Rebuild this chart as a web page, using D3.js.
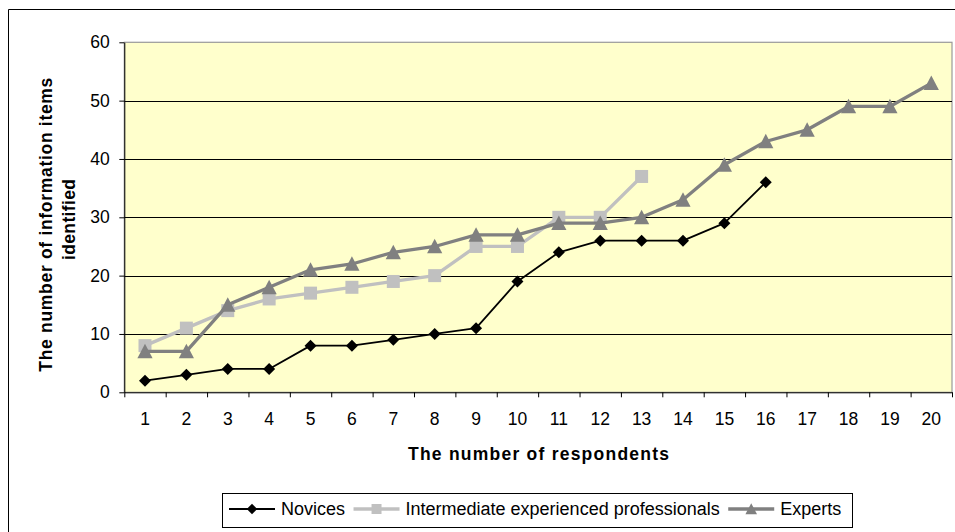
<!DOCTYPE html>
<html>
<head>
<meta charset="utf-8">
<script src="https://cdn.jsdelivr.net/npm/d3@7"></script>
<style>
  html, body { margin: 0; padding: 0; background: #fff; }
  svg { display: block; }
  text { font-family: "Liberation Sans", Arial, sans-serif; fill: #000; }
</style>
</head>
<body>
<svg id="chart" width="955" height="532"></svg>
<script>
// Respondent index along the x axis
const respondents = d3.range(1, 21);
// Cumulative number of information items identified per group
const novices      = [2, 3, 4, 4, 8, 8, 9, 10, 11, 19, 24, 26, 26, 26, 29, 36];
const intermediate = [8, 11, 14, 16, 17, 18, 19, 20, 25, 25, 30, 30, 37];
const experts      = [7, 7, 15, 18, 21, 22, 24, 25, 27, 27, 29, 29, 30, 33, 39, 43, 45, 49, 49, 53];
const yTicks = [0, 10, 20, 30, 40, 50, 60];
const seriesNames = ["Novices", "Intermediate experienced professionals", "Experts"];

const svg = d3.select("#chart");
const plot = { left: 124.3, right: 952, top: 42.3, bottom: 392.3 };

const x = d3.scaleBand().domain(respondents).range([plot.left, plot.right]);
const xEdge = d3.scaleLinear().domain([0, respondents.length]).range([plot.left, plot.right]);
const y = d3.scaleLinear().domain([0, 60]).range([plot.bottom, plot.top]);

// Outer chart frame
svg.append("path")
  .attr("d", "M8.5,532 V9.5 H955")
  .attr("fill", "none").attr("stroke", "#000").attr("stroke-width", 1);

// Plot area background and border
svg.append("rect")
  .attr("x", plot.left).attr("y", plot.top)
  .attr("width", plot.right - plot.left).attr("height", plot.bottom - plot.top)
  .attr("fill", "#FFFFCC").attr("stroke", "#999").attr("stroke-width", 1.2);

// Horizontal gridlines
svg.append("g").selectAll("line")
  .data(yTicks.filter(v => v > 0 && v < 60))
  .join("line")
  .attr("x1", plot.left).attr("x2", plot.right)
  .attr("y1", d => Math.round(y(d)) + 0.5).attr("y2", d => Math.round(y(d)) + 0.5)
  .attr("stroke", "#000").attr("stroke-width", 1);

// Y axis
const yAxis = svg.append("g")
  .attr("transform", `translate(${plot.left},0)`)
  .call(d3.axisLeft(y).tickValues(yTicks).tickSize(5).tickPadding(9.5).tickSizeOuter(0));
yAxis.select(".domain").attr("stroke", "#000");
yAxis.selectAll(".tick line").attr("stroke", "#000");
yAxis.selectAll("text").style("font-size", "17.5px").attr("fill", "#000")
  .style("font-family", "'Liberation Sans', Arial, sans-serif");

// X axis: tick marks at category boundaries
const xTickAxis = svg.append("g")
  .attr("transform", `translate(0,${plot.bottom})`)
  .call(d3.axisBottom(xEdge).ticks(respondents.length).tickFormat("").tickSize(5).tickSizeOuter(0));
xTickAxis.select(".domain").attr("stroke", "#000");
xTickAxis.selectAll(".tick line").attr("stroke", "#000");

// X axis: category labels centred in each band
const xLabelAxis = svg.append("g")
  .attr("transform", `translate(0,${plot.bottom})`)
  .call(d3.axisBottom(x).tickSize(0).tickPadding(20));
xLabelAxis.select(".domain").remove();
xLabelAxis.selectAll("text").style("font-size", "17.5px").attr("fill", "#000")
  .style("font-family", "'Liberation Sans', Arial, sans-serif");

// Marker shapes
const markers = {
  diamond: r => `M0,${-r}L${r},0L0,${r}L${-r},0Z`,
  square: r => `M${-r},${-r}H${r}V${r}H${-r}Z`,
  triangle: r => `M0,${-r}L${r},${r * 0.9}L${-r},${r * 0.9}Z`
};

const series = [
  { name: seriesNames[0], values: novices, color: "#000000", width: 1.8, marker: "diamond", size: 6, legendSize: 5.2 },
  { name: seriesNames[1], values: intermediate, color: "#C0C0C0", width: 3.3, marker: "square", size: 6.5, legendSize: 5 },
  { name: seriesNames[2], values: experts, color: "#808080", width: 3.3, marker: "triangle", size: 7.6, legendSize: 5.8 }
];

const line = d3.line()
  .x((d, i) => x(respondents[i]) + x.bandwidth() / 2)
  .y(d => y(d));

series.forEach(s => {
  const g = svg.append("g");
  g.append("path")
    .attr("d", line(s.values))
    .attr("fill", "none").attr("stroke", s.color).attr("stroke-width", s.width)
    .attr("stroke-linejoin", "round");
  g.selectAll("path.mk")
    .data(s.values)
    .join("path")
    .attr("class", "mk")
    .attr("transform", (d, i) => `translate(${x(respondents[i]) + x.bandwidth() / 2},${y(d)})`)
    .attr("d", markers[s.marker](s.size))
    .attr("fill", s.color);
});

// Axis titles
svg.append("text")
  .attr("x", 538.5).attr("y", 460)
  .attr("text-anchor", "middle")
  .attr("textLength", 261).attr("lengthAdjust", "spacing")
  .style("font-size", "17.5px").style("font-weight", "bold")
  .text("The number of respondents");

const yTitle = [
  { text: "The number of information items", bx: 51.5, cy: 224.7, len: 294 },
  { text: "identified", bx: 75, cy: 219.5, len: 81 }
];
yTitle.forEach(t => {
  svg.append("text")
    .attr("transform", `translate(${t.bx},${t.cy}) rotate(-90)`)
    .attr("text-anchor", "middle")
    .attr("textLength", t.len).attr("lengthAdjust", "spacing")
    .style("font-size", "17.5px").style("font-weight", "bold")
    .text(t.text);
});

// Legend
const legend = svg.append("g");
legend.append("rect")
  .attr("x", 222.5).attr("y", 493.5).attr("width", 630).attr("height", 34)
  .attr("fill", "#fff").attr("stroke", "#000").attr("stroke-width", 1);

let lx = 229;
const ly = 509;
series.forEach(s => {
  const item = legend.append("g");
  item.append("line")
    .attr("x1", lx).attr("x2", lx + 46).attr("y1", ly).attr("y2", ly)
    .attr("stroke", s.color).attr("stroke-width", s.width);
  item.append("path")
    .attr("transform", `translate(${lx + 23},${ly})`)
    .attr("d", markers[s.marker](s.legendSize))
    .attr("fill", s.color);
  const t = item.append("text")
    .attr("x", lx + 52).attr("y", 515)
    .style("font-size", "18px")
    .text(s.name);
  lx += 52 + t.node().getComputedTextLength() + 8.5;
});
</script>
</body>
</html>
